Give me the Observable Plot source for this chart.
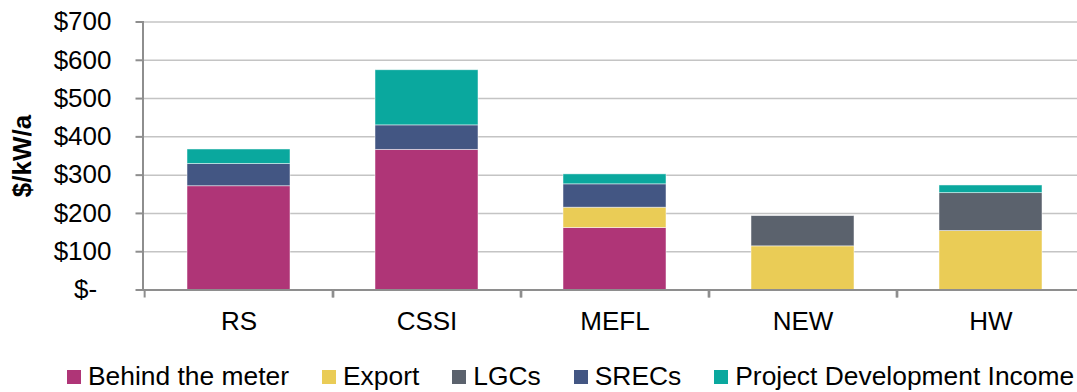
<!DOCTYPE html>
<html>
<head>
<meta charset="utf-8">
<script src="https://cdn.jsdelivr.net/npm/d3@7"></script>
<script src="https://cdn.jsdelivr.net/npm/@observablehq/plot@0.6"></script>
<style>
  html, body { margin: 0; padding: 0; background: #fff; overflow: hidden; }
  #chart svg { display: block; max-width: none; }
  .legend {
    display: flex; align-items: center;
    margin: 10px 0 0 67px;
    font-family: "Liberation Sans", Arial, sans-serif;
    font-size: 26.4px; line-height: 29px; color: #000; white-space: nowrap;
  }
  .legend .item { display: flex; align-items: center; margin-right: 33px; }
  .legend .sw { width: 14px; height: 14px; margin-right: 7px; flex: none; }
</style>
</head>
<body>
<div id="chart"></div>
<script>
// Annual value streams per site, $/kW/a
const categories = ["RS", "CSSI", "MEFL", "NEW", "HW"];
const seriesNames = ["Behind the meter", "Export", "LGCs", "SRECs", "Project Development Income"];
const seriesColors = ["#AF3577", "#EACC56", "#5B626D", "#435683", "#0AA89E"];

const behindTheMeter = [271, 366, 162, 0, 0];
const exportValues   = [0, 0, 53, 114, 154];
const lgcValues      = [0, 0, 0, 79, 99];
const srecValues     = [58, 64, 61, 0, 0];
const projectDevelopmentIncome = [38, 144, 26, 0, 20];

const yTicks = [0, 100, 200, 300, 400, 500, 600, 700];

// long-format rows for stacking
const seriesValues = [behindTheMeter, exportValues, lgcValues, srecValues, projectDevelopmentIncome];
const rows = [];
seriesNames.forEach((name, s) => {
  categories.forEach((cat, i) => {
    rows.push({category: cat, series: name, value: seriesValues[s][i]});
  });
});

const width = 1090, height = 352;
const marginLeft = 142.5, marginRight = 4;
const step = (width - marginLeft - marginRight) / categories.length;
const axisGrey = "#8e8e8e";
const fontFamily = "'Liberation Sans', Arial, sans-serif";

const chart = Plot.plot({
  width, height,
  marginTop: 21.5, marginBottom: 62.5, marginLeft, marginRight,
  style: {fontFamily, fontSize: "26px", color: "#000", background: "#fff"},
  x: {domain: categories, paddingInner: 0.45, paddingOuter: 0.225, axis: null},
  y: {domain: [0, 700], axis: null},
  color: {domain: seriesNames, range: seriesColors},
  marks: [
    Plot.gridY(yTicks.filter(d => d > 0), {stroke: "#c4c4c4", strokeOpacity: 1, strokeWidth: 1.5}),
    Plot.barY(rows, Plot.stackY({order: seriesNames}, {
      x: "category", y: "value", fill: "series",
      stroke: "#fff", strokeWidth: 0.8, strokeOpacity: 0.6
    })),
    Plot.ruleY([0], {stroke: axisGrey, strokeWidth: 2}),
    Plot.frame({anchor: "left", stroke: axisGrey, strokeWidth: 2}),
    Plot.axisY({
      ticks: yTicks, tickSize: 7, tickPadding: 24.5,
      tickFormat: d => d === 0 ? "$-\u2007" : "$" + d,
      stroke: axisGrey, strokeWidth: 2, fontSize: 26, label: null
    }),
    Plot.axisX({tickSize: 0, tickPadding: 22, fontSize: 26, label: null}),
    // category boundary ticks below the baseline
    Plot.axisX({tickSize: 8, tickFormat: () => "", dx: step / 2, stroke: axisGrey, strokeWidth: 2, label: null}),
    Plot.axisX({tickSize: 8, tickFormat: () => "", dx: -step / 2, stroke: axisGrey, strokeWidth: 2, label: null}),
    Plot.text(["$/kW/a"], {
      frameAnchor: "left", textAnchor: "middle", rotate: -90,
      dx: -120.5, fontWeight: "bold", fontSize: 26
    })
  ]
});

document.getElementById("chart").appendChild(chart);

// legend row
const legend = document.createElement("div");
legend.className = "legend";
seriesNames.forEach((name, i) => {
  const item = document.createElement("div");
  item.className = "item";
  const sw = document.createElement("span");
  sw.className = "sw";
  sw.style.background = seriesColors[i];
  const label = document.createElement("span");
  label.textContent = name;
  item.appendChild(sw);
  item.appendChild(label);
  legend.appendChild(item);
});
document.body.appendChild(legend);
</script>
</body>
</html>
